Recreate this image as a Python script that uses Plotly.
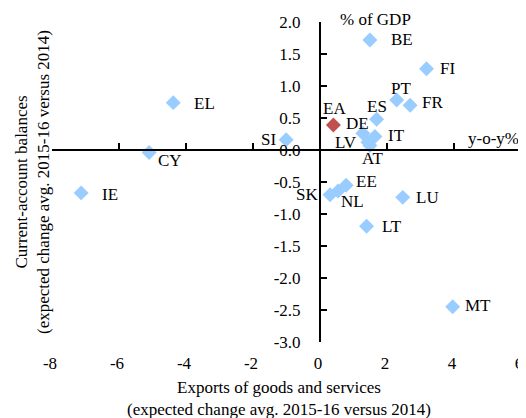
import plotly.graph_objects as go

# Data
countries = ["BE", "FI", "PT", "FR", "ES", "DE", "LV", "IT", "AT", "SI",
             "EL", "CY", "IE", "EE", "SK", "NL", "LU", "LT", "MT"]
exports_change = [1.49, 3.18, 2.29, 2.69, 1.69, 1.28, 1.43, 1.64, 1.49, -1.01,
                  -4.38, -5.10, -7.13, 0.78, 0.30, 0.54, 2.47, 1.39, 3.96]
ca_change = [1.72, 1.27, 0.78, 0.70, 0.48, 0.26, 0.12, 0.21, 0.07, 0.16,
             0.74, -0.04, -0.67, -0.55, -0.70, -0.64, -0.74, -1.19, -2.45]

ea_label = ["EA"]
ea_exports = [0.40]
ea_ca = [0.39]

x_ticks = [-8, -6, -4, -2, 0, 2, 4, 6]
x_tick_labels = ["-8", "-6", "-4", "-2", "0", "2", "4", "6"]
y_ticks = [-3.0, -2.5, -2.0, -1.5, -1.0, -0.5, 0.0, 0.5, 1.0, 1.5, 2.0]
y_tick_labels = ["-3.0", "-2.5", "-2.0", "-1.5", "-1.0", "-0.5", "0.0", "0.5", "1.0", "1.5", "2.0"]

# label placement (style): anchor, x offset px, y offset px (down positive)
label_style = {
    "BE": ("left", 19, 0), "FI": ("left", 11, 0), "PT": ("center", 4, -12),
    "FR": ("left", 10, -3), "ES": ("center", 0, -13), "EA": ("center", 1, -17),
    "DE": ("center", -5, -10), "LV": ("right", -9, 0), "IT": ("left", 11, -1),
    "AT": ("center", 3, 13), "SI": ("right", -8, 0), "EL": ("left", 19, 1),
    "CY": ("left", 7, 8), "IE": ("left", 19, 2), "EE": ("left", 8, -4),
    "SK": ("right", -10, 0), "NL": ("left", 1, 11), "LU": ("left", 11, 0),
    "LT": ("left", 13, 0), "MT": ("left", 10, -1),
}

FONT = "Liberation Serif, Times New Roman, serif"
FS = 17
OFF = 8  # page body margin
PAGE_W, PAGE_H = 526, 418
W, H = PAGE_W - OFF, PAGE_H - OFF
# plot area in page pixels: x 52..521, y 22..342
ML, MR = 52 - OFF, PAGE_W - 521
MT_, MB = 22 - OFF, PAGE_H - 342
PW, PH = W - ML - MR, H - MT_ - MB
xr = [x_ticks[0], x_ticks[-1]]
yr = [y_ticks[0], y_ticks[-1]]


def px_x(page_x):
    return (page_x - 52) / PW


def px_y(page_y):
    return (342 - page_y) / PH


fig = go.Figure()
fig.add_trace(go.Scatter(
    x=exports_change, y=ca_change, mode="markers",
    marker=dict(symbol="diamond", size=11.5, color="#99CCFF"),
    cliponaxis=False, hoverinfo="skip", showlegend=False,
))
fig.add_trace(go.Scatter(
    x=ea_exports, y=ea_ca, mode="markers",
    marker=dict(symbol="diamond", size=11.5, color="#C0504D"),
    cliponaxis=False, hoverinfo="skip", showlegend=False,
))
# invisible trace on the bottom label axis so it gets drawn
fig.add_trace(go.Scatter(
    x=exports_change, y=ca_change, xaxis="x2", mode="markers",
    marker=dict(opacity=0), hoverinfo="skip", showlegend=False,
))

annotations = []
for name, xv, yv in list(zip(countries, exports_change, ca_change)) + \
        list(zip(ea_label, ea_exports, ea_ca)):
    anc, dx, dy = label_style[name]
    annotations.append(dict(
        text=name, x=xv, y=yv, xref="x", yref="y", showarrow=False,
        xanchor=anc, yanchor="middle", xshift=dx, yshift=-dy,
        font=dict(family=FONT, size=FS, color="black"),
    ))

x0_frac = (0 - xr[0]) / (xr[1] - xr[0])
y0_frac = (0 - yr[0]) / (yr[1] - yr[0])

annotations += [
    dict(text="Exports of goods and services<br>(expected change avg. 2015-16 versus 2014)",
         xref="paper", yref="paper", x=px_x(279), y=px_y(376),
         xanchor="center", yanchor="top",
         showarrow=False, font=dict(family=FONT, size=FS)),
    dict(text="Current-account balances<br>(expected change avg. 2015-16 versus 2014)",
         xref="paper", yref="paper", x=px_x(32), y=px_y(182), xanchor="center", yanchor="middle",
         textangle=-90, showarrow=False, font=dict(family=FONT, size=FS)),
    dict(text="% of GDP", xref="paper", yref="paper", x=px_x(375), y=px_y(20),
         xanchor="center", yanchor="middle", showarrow=False,
         font=dict(family=FONT, size=FS)),
    dict(text="y-o-y%", xref="paper", yref="y", x=1.0, y=0,
         xanchor="right", yanchor="bottom", showarrow=False,
         font=dict(family=FONT, size=FS)),
]

fig.update_layout(
    width=W, height=H,
    margin=dict(l=ML, r=MR, t=MT_, b=MB, autoexpand=False),
    paper_bgcolor="white", plot_bgcolor="white",
    font=dict(family=FONT, size=FS, color="black"),
    xaxis=dict(
        range=xr, tickvals=x_ticks, anchor="free", position=y0_frac,
        showline=True, linecolor="black", linewidth=2,
        ticks="inside", ticklen=6, tickwidth=1.5, tickcolor="black",
        showticklabels=False, showgrid=False, zeroline=False, automargin=False,
    ),
    xaxis2=dict(
        range=xr, tickvals=x_ticks, ticktext=x_tick_labels,
        overlaying="x", anchor="y", side="bottom",
        showline=False, ticks="", showgrid=False, zeroline=False, automargin=False,
        ticklabelstandoff=9, ticklabelshift=-2,
        tickfont=dict(family=FONT, size=FS, color="black"),
    ),
    yaxis=dict(
        range=yr, tickvals=y_ticks, ticktext=y_tick_labels,
        anchor="free", position=x0_frac,
        showline=True, linecolor="black", linewidth=2,
        ticks="inside", ticklen=6, tickwidth=1.5, tickcolor="black",
        showgrid=False, zeroline=False, ticklabelstandoff=15, automargin=False,
        tickfont=dict(family=FONT, size=FS, color="black"),
    ),
    annotations=annotations,
)

fig.write_html("out.html")
